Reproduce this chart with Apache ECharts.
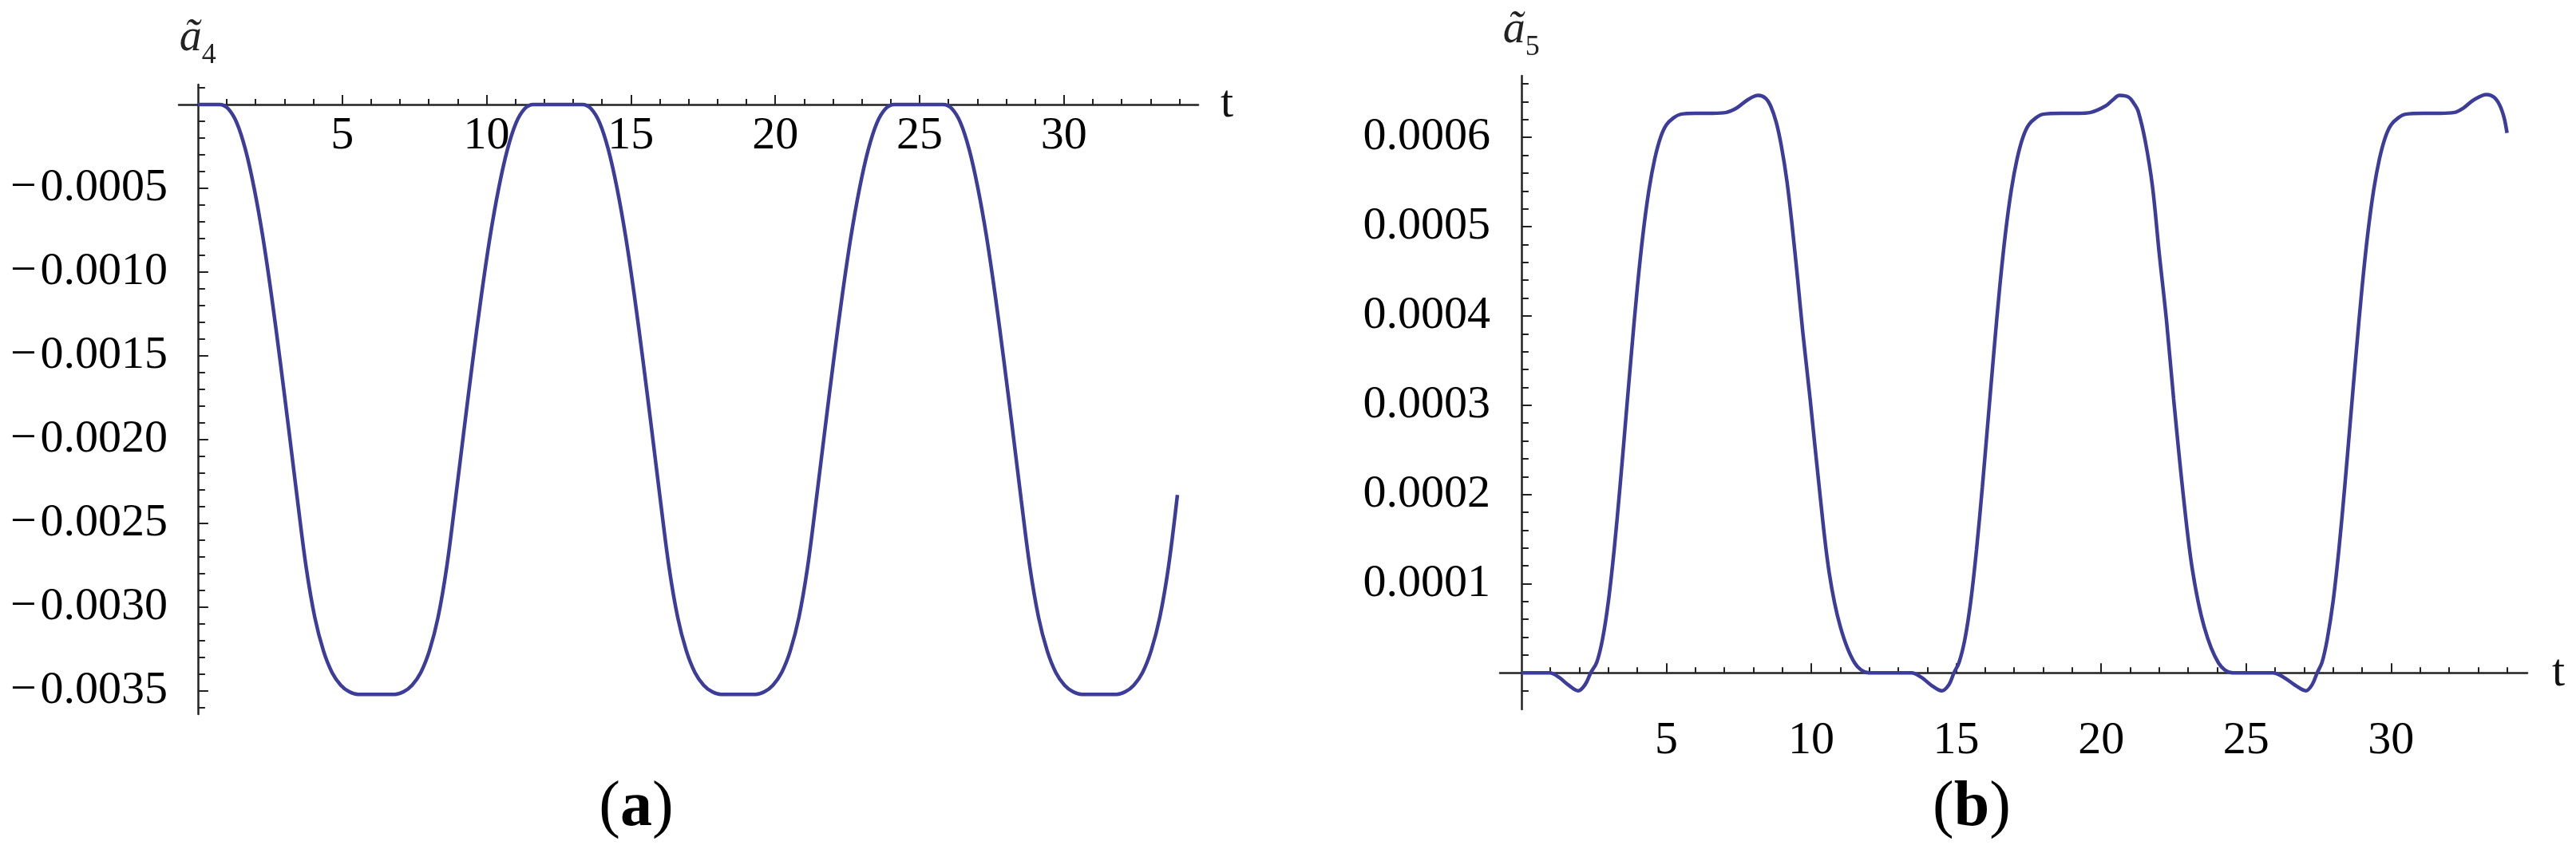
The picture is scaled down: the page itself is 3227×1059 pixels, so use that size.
<!DOCTYPE html>
<html><head><meta charset="utf-8">
<script src="https://cdn.jsdelivr.net/npm/echarts@6/dist/echarts.min.js"></script>
<style>html,body{margin:0;padding:0;background:#fff}#c{width:3227px;height:1059px}</style>
</head><body><div id="c"></div>
<script>
// ---- panel (a): ã4(t) ----
const aT = [0,0.5,0.75,1.05,1.35,1.65,1.95,2.25,2.55,2.85,3.15,3.45,3.75,4.05,4.35,4.65,4.95,5.25,5.55,6.2,6.82,7.12,7.42,7.72,8.02,8.32,8.62,8.92,9.22,9.52,9.82,10.12,10.42,10.72,11.02,11.32,11.62,12.47,13.32,13.62,13.92,14.22,14.52,14.82,15.12,15.42,15.72,16.02,16.32,16.62,16.92,17.22,17.52,17.82,18.12,18.72,19.32,19.62,19.92,20.22,20.52,20.82,21.12,21.42,21.72,22.02,22.32,22.62,22.92,23.22,23.52,23.82,24.12,24.97,25.82,26.12,26.42,26.72,27.02,27.32,27.62,27.92,28.22,28.52,28.82,29.12,29.42,29.72,30.02,30.32,30.62,31.22,31.82,32.12,32.42,32.72,33.02,33.32,33.62,33.93];
const aV = [0,0,0,-0.000025,-0.00011,-0.00027,-0.0005,-0.00079,-0.00114,-0.00153,-0.00194,-0.00236,-0.00276,-0.00306,-0.00326,-0.00339,-0.003465,-0.003505,-0.00352,-0.00352,-0.00352,-0.003505,-0.003465,-0.00339,-0.00326,-0.00306,-0.00276,-0.00236,-0.00194,-0.00153,-0.00114,-0.00079,-0.0005,-0.00027,-0.00011,-0.000025,0,0,0,-0.000025,-0.00011,-0.00027,-0.0005,-0.00079,-0.00114,-0.00153,-0.00194,-0.00236,-0.00276,-0.00306,-0.00326,-0.00339,-0.003465,-0.003505,-0.00352,-0.00352,-0.00352,-0.003505,-0.003465,-0.00339,-0.00326,-0.00306,-0.00276,-0.00236,-0.00194,-0.00153,-0.00114,-0.00079,-0.0005,-0.00027,-0.00011,-0.000025,0,0,0,-0.000025,-0.00011,-0.00027,-0.0005,-0.00079,-0.00114,-0.00153,-0.00194,-0.00236,-0.00276,-0.00306,-0.00326,-0.00339,-0.003465,-0.003505,-0.00352,-0.00352,-0.00352,-0.003505,-0.003465,-0.00339,-0.00326,-0.00306,-0.00276,-0.00233];

// ---- panel (b): ã5(t) ----
const bT = [0,0.5,0.98,1.3,1.6,1.96,2.2,2.39,2.6,2.8,3.0,3.2,3.4,3.6,3.8,4.0,4.2,4.4,4.6,4.8,5.0,5.25,5.5,6.0,6.6,7.07,7.43,7.8,8.17,8.42,8.6,8.79,8.97,9.16,9.34,9.53,9.71,9.96,10.3,10.62,11.0,11.5,12.0,13.46,13.8,14.15,14.5,14.75,14.92,15.1,15.3,15.5,15.7,15.9,16.1,16.3,16.5,16.7,16.9,17.1,17.3,17.5,17.75,18.0,18.6,19.2,19.64,20.14,20.4,20.63,20.95,21.15,21.28,21.52,21.77,22.0,22.25,22.5,22.83,23.15,23.55,24.05,24.54,25.92,26.3,26.7,27.06,27.28,27.45,27.62,27.8,28.0,28.2,28.4,28.6,28.8,29.0,29.2,29.4,29.6,29.8,30.0,30.25,30.5,31.1,31.7,32.19,32.5,32.85,33.3,33.55,33.75,33.9,34.0];
const bV = [0,0,0,-0.000005,-0.000013,-0.00002,-0.000013,0,0.000012,0.000038,0.00008,0.000138,0.000208,0.000284,0.00036,0.000432,0.000493,0.000541,0.000576,0.0006,0.000614,0.000622,0.000626,0.000627,0.000627,0.000628,0.000633,0.000642,0.000647,0.000644,0.000635,0.000617,0.00059,0.000551,0.000501,0.000441,0.000381,0.000307,0.0002,0.000112,0.000052,0.000011,0,0,-0.000005,-0.000014,-0.00002,-0.000013,0,0.000012,0.000038,0.00008,0.000138,0.000208,0.000284,0.00036,0.000432,0.000493,0.000541,0.000576,0.0006,0.000614,0.000622,0.000626,0.000627,0.000627,0.000628,0.000635,0.000642,0.000647,0.000645,0.000637,0.000629,0.000596,0.000545,0.000471,0.000396,0.000307,0.0002,0.000115,0.000052,0.000011,0,0,-0.000005,-0.000014,-0.00002,-0.000013,0,0.000012,0.000038,0.00008,0.000138,0.000208,0.000284,0.00036,0.000432,0.000493,0.000541,0.000576,0.0006,0.000614,0.000622,0.000626,0.000627,0.000627,0.000628,0.000633,0.000642,0.000648,0.000645,0.000636,0.000622,0.000605];

// ---- ticks and labels ----
const xMajorTicks = [5,10,15,20,25,30];
const xMinorTicks = [1,2,3,4,6,7,8,9,11,12,13,14,16,17,18,19,21,22,23,24,26,27,28,29,31,32,33,34];
const aYMajorTicks = [-0.0005,-0.001,-0.0015,-0.002,-0.0025,-0.003,-0.0035];
const aYTickLabels = ['\u2212\u200A0.0005','\u2212\u200A0.0010','\u2212\u200A0.0015','\u2212\u200A0.0020','\u2212\u200A0.0025','\u2212\u200A0.0030','\u2212\u200A0.0035'];
const aYMinorTicks = [0.0001,-0.0001,-0.0002,-0.0003,-0.0004,-0.0006,-0.0007,-0.0008,-0.0009,-0.0011,-0.0012,-0.0013,-0.0014,-0.0016,-0.0017,-0.0018,-0.0019,-0.0021,-0.0022,-0.0023,-0.0024,-0.0026,-0.0027,-0.0028,-0.0029,-0.0031,-0.0032,-0.0033,-0.0034,-0.0036];
const bYMajorTicks = [0.0001,0.0002,0.0003,0.0004,0.0005,0.0006];
const bYTickLabels = ['0.0001','0.0002','0.0003','0.0004','0.0005','0.0006'];
const bYMinorTicks = [-0.00002,0.00002,0.00004,0.00006,0.00008,0.00012,0.00014,0.00016,0.00018,0.00022,0.00024,0.00026,0.00028,0.00032,0.00034,0.00036,0.00038,0.00042,0.00044,0.00046,0.00048,0.00052,0.00054,0.00056,0.00058,0.00062,0.00064,0.00066];
const aYName = '{a|\u00E3}{s|4}';
const bYName = '{a|\u00E3}{s|5}';
const xName = 't';

const SERIF = '"Liberation Serif","Times New Roman",serif';
const AX = '#222';
const LINE = '#3c3c9a';
const TICKFONT = 58;

function lookup(ticks, labels) {
  return v => { const i = ticks.findIndex(t => Math.abs(t - v) < 1e-12); return i >= 0 ? labels[i] : ''; };
}
const nameRich = {
  a: {fontFamily: SERIF, fontStyle: 'italic', fontSize: 56, lineHeight: 68, color: '#222', verticalAlign: 'top'},
  s: {fontFamily: SERIF, fontSize: 36, lineHeight: 36, color: '#222', verticalAlign: 'bottom'}
};
const labelStyle = {color: '#000', fontSize: TICKFONT, fontFamily: SERIF};

function mainX(grid, min, max, yIdx, gap, showLabels) {
  return {
    type: 'value', gridIndex: grid, min: min, max: max, position: 'bottom',
    axisLine: {show: true, onZero: true, onZeroAxisIndex: yIdx, lineStyle: {color: AX, width: 2.5}},
    axisTick: {show: true, inside: true, length: 12, customValues: xMajorTicks, lineStyle: {color: AX, width: 2}},
    axisLabel: Object.assign({show: showLabels, customValues: xMajorTicks, margin: 11}, labelStyle),
    splitLine: {show: false},
    name: xName, nameLocation: 'end', nameGap: gap,
    nameTextStyle: {fontFamily: SERIF, fontSize: TICKFONT, color: '#111'}
  };
}
function minorX(grid, min, max, yIdx) {
  return {
    type: 'value', gridIndex: grid, min: min, max: max, position: 'bottom',
    axisLine: {show: false, onZero: true, onZeroAxisIndex: yIdx},
    axisTick: {show: true, inside: true, length: 7, customValues: xMinorTicks, lineStyle: {color: AX, width: 2}},
    axisLabel: {show: false}, splitLine: {show: false}
  };
}
function mainY(grid, min, max, xIdx, ticks, labels, margin, name, gap) {
  return {
    type: 'value', gridIndex: grid, min: min, max: max, position: 'left',
    axisLine: {show: true, onZero: true, onZeroAxisIndex: xIdx, lineStyle: {color: AX, width: 2.5}},
    axisTick: {show: true, inside: true, length: 13, customValues: ticks, lineStyle: {color: AX, width: 2}},
    axisLabel: Object.assign({show: true, customValues: ticks, formatter: lookup(ticks, labels), margin: margin}, labelStyle),
    splitLine: {show: false},
    name: name, nameLocation: 'end', nameGap: gap,
    nameTextStyle: {rich: nameRich}
  };
}
function minorY(grid, min, max, xIdx, ticks) {
  return {
    type: 'value', gridIndex: grid, min: min, max: max, position: 'left',
    axisLine: {show: false, onZero: true, onZeroAxisIndex: xIdx},
    axisTick: {show: true, inside: true, length: 9, customValues: ticks, lineStyle: {color: AX, width: 2}},
    axisLabel: {show: false}, splitLine: {show: false}
  };
}

const aData = aT.map((t, i) => [t, aV[i]]);
const bData = bT.map((t, i) => [t, bV[i]]);

const aX = [-0.66, 34.65], aY = [-0.003638, 0.000119];
const bX = [-0.74, 34.7],  bY = [-0.0000408, 0.000669];

const chart = echarts.init(document.getElementById('c'), null, {renderer: 'canvas'});
chart.setOption({
  backgroundColor: '#fff',
  animation: false,
  grid: [
    {left: 224, top: 106, width: 1277, height: 789},
    {left: 1879, top: 95, width: 1287, height: 794},
    // strip whose bottom edge coincides with panel (a)'s zero line, carries its t labels
    {left: 224, top: 31, width: 1277, height: 100}
  ],
  xAxis: [
    mainX(0, aX[0], aX[1], 0, 28, false),
    mainX(1, bX[0], bX[1], 1, 31, true),
    minorX(0, aX[0], aX[1], 0),
    minorX(1, bX[0], bX[1], 1),
    {type: 'value', gridIndex: 2, min: aX[0], max: aX[1], position: 'bottom',
     axisLine: {show: false, onZero: false}, axisTick: {show: false},
     axisLabel: Object.assign({show: true, customValues: xMajorTicks, margin: 11}, labelStyle),
     splitLine: {show: false}}
  ],
  yAxis: [
    mainY(0, aY[0], aY[1], 0, aYMajorTicks, aYTickLabels, 14, aYName, 18),
    mainY(1, bY[0], bY[1], 1, bYMajorTicks, bYTickLabels, 12, bYName, 17),
    minorY(0, aY[0], aY[1], 0, aYMinorTicks),
    minorY(1, bY[0], bY[1], 1, bYMinorTicks),
    {type: 'value', gridIndex: 2, min: 0, max: 1, show: false}
  ],
  series: [
    {type: 'line', xAxisIndex: 0, yAxisIndex: 0, data: aData, showSymbol: false, smooth: 0.35,
     lineStyle: {color: LINE, width: 4.5}, z: 5},
    {type: 'line', xAxisIndex: 1, yAxisIndex: 1, data: bData, showSymbol: false, smooth: 0.35,
     lineStyle: {color: LINE, width: 4.5}, z: 5}
  ],
  graphic: [
    {type: 'text', x: 797, y: 1013, style: {text: '{p|(}{b|a}{p|)}', align: 'center', verticalAlign: 'middle', textAlign: 'center', textVerticalAlign: 'middle',
      rich: {p: {fontFamily: SERIF, fontSize: 80, fill: '#000'}, b: {fontFamily: SERIF, fontSize: 80, fontWeight: 'bold', fill: '#000'}}}},
    {type: 'text', x: 2470, y: 1013, style: {text: '{p|(}{b|b}{p|)}', align: 'center', verticalAlign: 'middle', textAlign: 'center', textVerticalAlign: 'middle',
      rich: {p: {fontFamily: SERIF, fontSize: 80, fill: '#000'}, b: {fontFamily: SERIF, fontSize: 80, fontWeight: 'bold', fill: '#000'}}}}
  ]
});
</script>
</body></html>
